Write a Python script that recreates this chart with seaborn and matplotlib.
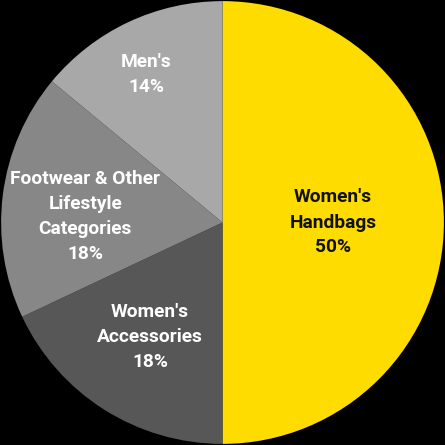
import numpy as np
import matplotlib
matplotlib.use("Agg")
import matplotlib.pyplot as plt
import seaborn as sns

categories = ["Women's\nHandbags", "Women's\nAccessories",
              "Footwear & Other\nLifestyle\nCategories", "Men's"]
shares = [50, 18, 18, 14]
colors = ["#FEDC00", "#575757", "#878787", "#A8A8A8"]
text_colors = ["#111111", "white", "white", "white"]
label_dist = [0.5, 0.61, 0.62, 0.75]
angle_adj = [0, 0, 4.5, 2]

sns.set_theme(style="white")
plt.rcParams['font.family'] = ['Roboto', 'DejaVu Sans']

fig = plt.figure(figsize=(4.45, 4.45), dpi=100, facecolor="black")
ax = fig.add_axes([0, 0, 1, 1])
ax.set_facecolor("black")
wedges, _ = ax.pie(shares, colors=colors, startangle=90, counterclock=False,
                   wedgeprops=dict(linewidth=0, antialiased=True), radius=1.0)
for w, cat, s, tc, d, adj in zip(wedges, categories, shares, text_colors, label_dist, angle_adj):
    mid = np.deg2rad((w.theta1 + w.theta2) / 2 + adj)
    ax.text(d * np.cos(mid), d * np.sin(mid), f"{cat}\n{s}%", ha="center", va="center",
            color=tc, fontsize=13.8, fontweight="bold", linespacing=1.5)
ax.set_xlim(-1.005, 1.005)
ax.set_ylim(-1.005, 1.005)
ax.set_aspect("equal")
ax.axis("off")
fig.savefig("out.png", dpi=100, facecolor="black")
